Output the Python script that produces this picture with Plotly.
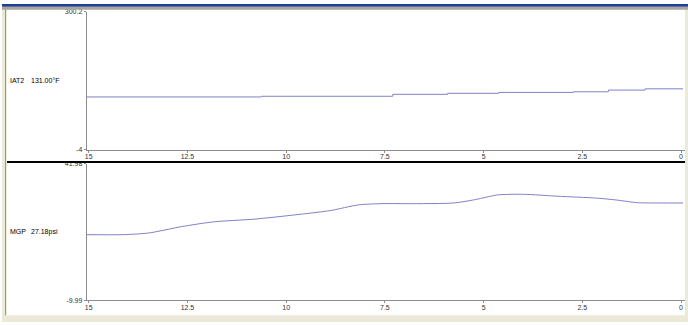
import plotly.graph_objects as go

# ---- data ----
iat_t = [15.05, 10.63, 7.30, 5.91, 4.62, 2.73, 1.84, 0.91, -0.05]
iat_v = [112.5, 114.0, 118.3, 120.5, 122.6, 123.9, 127.6, 130.4, 130.4]

mgp_t = [15.05, 14.12, 13.48, 12.65, 11.82, 10.81, 9.44, 8.86, 8.18, 7.60, 6.77,
         5.76, 5.20, 4.65, 3.99, 3.13, 2.12, 1.62, 1.11, 0.53, -0.05]
mgp_v = [15.07, 15.07, 15.70, 18.13, 19.98, 20.97, 23.18, 24.29, 26.39, 26.87, 26.87,
         27.13, 28.45, 30.19, 30.44, 29.71, 28.97, 28.23, 27.24, 27.13, 27.13]

x_ticks = [15, 12.5, 10, 7.5, 5, 2.5, 0]
x_tick_text = ["15", "12.5", "10", "7.5", "5", "2.5", "0"]
iat_range = [-4, 300.2]
mgp_range = [-9.99, 41.98]
iat_label = ["IAT2", "131.00\u00b0F"]
mgp_label = ["MGP", "27.18psi"]

W, H = 688, 325
def px(x):
    return x / W
def py(y):
    return 1 - y / H

LINE = "#8080C8"
AX = "#8C8C8C"
FONT = "Liberation Sans"

fig = go.Figure()
fig.add_trace(go.Scatter(x=iat_t, y=iat_v, mode="lines", line=dict(color=LINE, width=1, shape="hv"),
                         xaxis="x", yaxis="y", hoverinfo="skip", showlegend=False))
fig.add_trace(go.Scatter(x=mgp_t, y=mgp_v, mode="lines",
                         line=dict(color=LINE, width=1, shape="spline", smoothing=0.7),
                         xaxis="x2", yaxis="y2", hoverinfo="skip", showlegend=False))

xcommon = dict(range=[15.05, -0.1], showgrid=False, zeroline=False, showline=True, linecolor=AX,
               linewidth=1, ticks="outside", ticklen=2, tickcolor=AX, tickvals=x_ticks,
               ticktext=x_tick_text, tickfont=dict(family=FONT, size=7, color="#333333"),
               ticklabelstandoff=-2,
               domain=[px(85), px(685)], fixedrange=True)
ycommon = dict(showgrid=False, zeroline=False, showline=True, linecolor=AX, linewidth=1,
               ticks="outside", ticklen=2, tickcolor=AX,
               tickfont=dict(family=FONT, size=7, color="#333333"), fixedrange=True)

fig.update_layout(
    width=W, height=H, margin=dict(l=0, r=0, t=0, b=0),
    paper_bgcolor="white", plot_bgcolor="white",
    xaxis=dict(anchor="y", **xcommon),
    xaxis2=dict(anchor="y2", **xcommon),
    yaxis=dict(anchor="x", domain=[py(149), py(8)], range=iat_range,
               tickvals=iat_range, ticktext=["-4", "300.2"], **ycommon),
    yaxis2=dict(anchor="x2", domain=[py(303), py(163.5)], range=mgp_range,
                tickvals=mgp_range, ticktext=["-9.99", "41.98"], **ycommon),
    showlegend=False,
)

shapes = [
    # separator
    dict(type="line", xref="paper", yref="paper", x0=px(5), x1=px(685), y0=py(161.5), y1=py(161.5),
         line=dict(color="black", width=2)),
    # frame
    dict(type="rect", xref="paper", yref="paper", x0=0, x1=px(5), y0=0, y1=1,
         fillcolor="#ECE9D8", line=dict(width=0), layer="above"),
    dict(type="line", xref="paper", yref="paper", x0=px(3.5), x1=px(3.5), y0=0, y1=py(4),
         line=dict(color="#7F9DB9", width=1)),
    dict(type="rect", xref="paper", yref="paper", x0=px(685), x1=1, y0=0, y1=1,
         fillcolor="#ECE9D8", line=dict(width=0), layer="above"),
    dict(type="rect", xref="paper", yref="paper", x0=0, x1=1, y0=0, y1=py(318),
         fillcolor="#ECE9D8", line=dict(width=0), layer="above"),
    dict(type="rect", xref="paper", yref="paper", x0=0, x1=1, y0=py(6), y1=1,
         fillcolor="#A8A5A0", line=dict(width=0), layer="above"),
    dict(type="rect", xref="paper", yref="paper", x0=0, x1=1, y0=py(2.5), y1=1,
         fillcolor="#1C3F94", line=dict(width=0), layer="above"),
]
fig.update_layout(shapes=shapes)

ann = []
for lbl, y in [(iat_label, 78), (mgp_label, 233)]:
    ann.append(dict(x=px(6), y=py(y), xref="paper", yref="paper", text=lbl[0], showarrow=False,
                    xanchor="left", yanchor="middle", font=dict(family=FONT, size=7, color="black")))
    ann.append(dict(x=px(27), y=py(y), xref="paper", yref="paper", text=lbl[1], showarrow=False,
                    xanchor="left", yanchor="middle", font=dict(family=FONT, size=7, color="black")))
fig.update_layout(annotations=ann)

fig.write_html("out.html", config={"displayModeBar": False})
